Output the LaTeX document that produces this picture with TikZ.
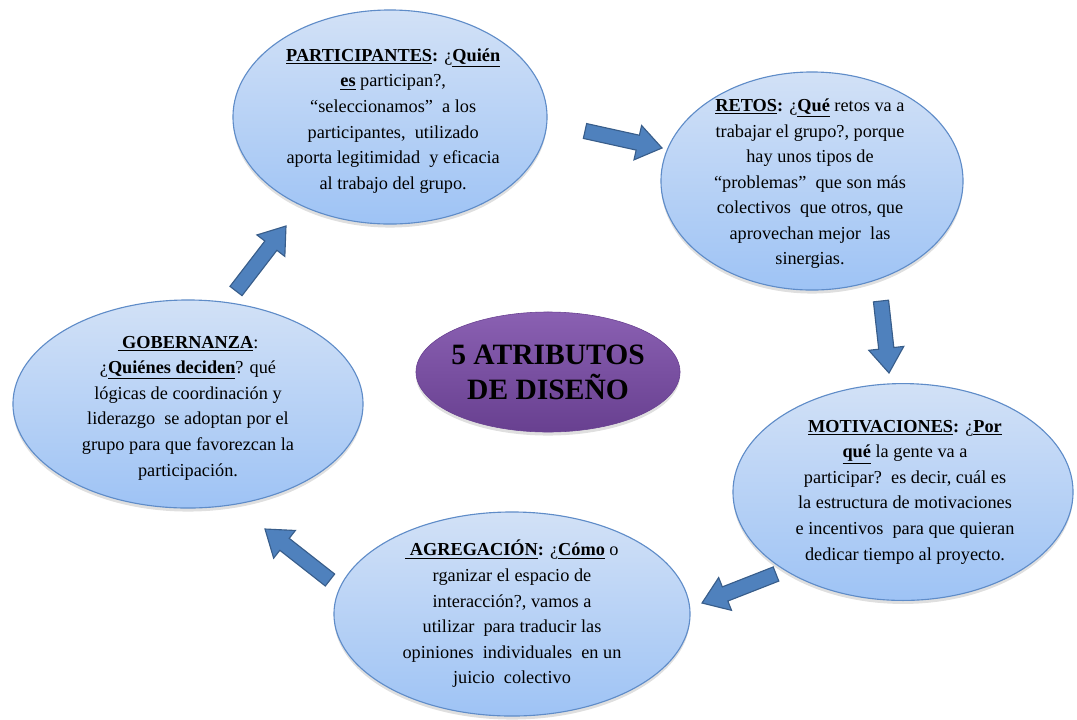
\documentclass[tikz,border=0pt]{standalone}
\usepackage{fontspec}
\setmainfont{Liberation Serif}
\usetikzlibrary{calc,shapes,shadows}

\definecolor{bubtop}{RGB}{210,225,246}
\definecolor{bubbot}{RGB}{158,195,245}
\definecolor{bubline}{RGB}{95,140,200}
\definecolor{arrfill}{RGB}{79,129,189}
\definecolor{arrline}{RGB}{56,93,138}
\definecolor{purtop}{RGB}{138,96,178}
\definecolor{purbot}{RGB}{104,64,144}

% block arrow from tail #1 to tip #2
\newcommand{\blockarrow}[2]{%
  \coordinate (#1base) at ($(#2)!0.62cm!(#1)$);
  \draw[blk] ($(#1)!0.19cm!90:(#2)$) -- ($(#1base)!0.19cm!-90:(#1)$) -- ($(#1base)!0.44cm!-90:(#1)$) -- (#2)
    -- ($(#1base)!0.44cm!90:(#1)$) -- ($(#1base)!0.19cm!90:(#1)$) -- ($(#1)!0.19cm!-90:(#2)$) -- cycle;}

\begin{document}
\begin{tikzpicture}[x=0.025cm, y=-0.025cm,
bub/.style={ellipse, draw=bubline, line width=0.8pt, top color=bubtop, bottom color=bubbot, inner sep=0,
  drop shadow={shadow xshift=0pt, shadow yshift=-2.5pt, opacity=0.25}},
txt/.style={align=center, font=\fontsize{13}{18.2}\selectfont},
blk/.style={fill=arrfill, draw=arrline, line width=0.8pt, line join=miter}]
	\useasboundingbox (0,0) rectangle (1077,719);
	\node[bub, minimum width=7.85cm, minimum height=5.35cm] at (390,117) (part) {};
	\node[bub, minimum width=7.55cm, minimum height=5.45cm] at (812,181) (retos) {};
	\node[bub, minimum width=8.5cm, minimum height=5.42cm] at (903,492) (motiv) {};
	\node[bub, minimum width=8.9cm, minimum height=5.1cm] at (512,614) (agreg) {};
	\node[bub, minimum width=8.75cm, minimum height=5.2cm] at (188,404) (gober) {};
	\node[ellipse, top color=purtop, bottom color=purbot, draw=purbot, minimum width=6.6cm, minimum height=3cm,
	  drop shadow={shadow xshift=0pt, shadow yshift=-2.5pt, opacity=0.25}] at (548,372) (attr) {};
	\node[txt] at ([xshift=0.08cm, yshift=-0.1cm]part.center) (parttxt)
	  {\underline{\textbf{PARTICIPANTES}}\textbf{:} ¿\underline{\textbf{Quién}}\\
	   \underline{\textbf{es}} participan?,\\
	   “seleccionamos”\ \ a los\\
	   participantes,\ \ utilizado\\
	   aporta legitimidad\ \ y eficacia\\
	   al trabajo del grupo.};
	\node[txt] at ([xshift=-0.05cm, yshift=-0.07cm]retos.center) (retostxt)
	  {\underline{\textbf{RETOS}}\textbf{:} ¿\underline{\textbf{Qué}} retos va a\\
	   trabajar el grupo?, porque\\
	   hay unos tipos de\\
	   “problemas”\ \ que son más\\
	   colectivos\ \ que otros, que\\
	   aprovechan mejor\ \ las\\
	   sinergias.};
	\node[txt] at ([xshift=0.05cm]motiv.center) (motivtxt)
	  {\underline{\textbf{MOTIVACIONES}}\textbf{:} ¿\underline{\textbf{Por}}\\
	   \underline{\textbf{qué}} la gente va a\\
	   participar?\ \ es decir,\ cuál es\\
	   la\ estructura de motivaciones\\
	   e incentivos\ \ para que quieran\\
	   dedicar\ tiempo\ al proyecto.};
	\node[txt] at (agreg.center) (agregtxt)
	  {\underline{\textbf{\ AGREGACIÓN}}\textbf{:} ¿\underline{\textbf{Cómo}} o\\
	   rganizar\ el espacio de\\
	   interacción?,\ vamos\ a\\
	   utilizar\ \ para traducir las\\
	   opiniones\ \ individuales\ \ en un\\
	   juicio\ \ colectivo};
	\node[txt] at ([yshift=-0.1cm]gober.center) (gobertxt)
	  {\underline{\textbf{\ GOBERNANZA}}:\\
	   ¿\underline{\textbf{Quiénes deciden}}? qué\\
	   lógicas\ de\ coordinación\ y\\
	   liderazgo\ \ se adoptan por\ el\\
	   grupo para que favorezcan la\\
	   participación.};
	\node[align=center, font=\bfseries\fontsize{21}{25}\selectfont] at (attr.center) (attrtxt) {5 ATRIBUTOS\\DE DISEÑO};
	\coordinate (a1) at (585,131);
	\coordinate (a1h) at (662,148);
	\coordinate (a2) at (881,301);
	\coordinate (a2h) at (889,373);
	\coordinate (a3) at (776,574);
	\coordinate (a3h) at (702,603);
	\coordinate (a4) at (330,580);
	\coordinate (a4h) at (265,529);
	\coordinate (a5) at (236,291);
	\coordinate (a5h) at (286,226);
	\blockarrow{a1}{a1h}
	\blockarrow{a2}{a2h}
	\blockarrow{a3}{a3h}
	\blockarrow{a4}{a4h}
	\blockarrow{a5}{a5h}
\end{tikzpicture}
\end{document}
